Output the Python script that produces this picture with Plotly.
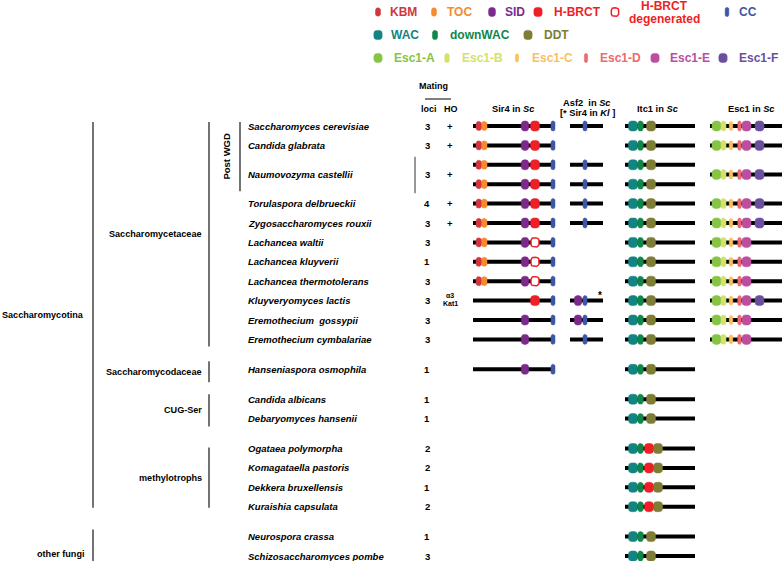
import numpy as np
import plotly.graph_objects as go

# ---------------- data ----------------
species = [
    "Saccharomyces cerevisiae", "Candida glabrata", "Naumovozyma castellii",
    "Torulaspora delbrueckii", "Zygosaccharomyces rouxii", "Lachancea waltii",
    "Lachancea kluyverii", "Lachancea thermotolerans", "Kluyveryomyces lactis",
    "Eremothecium  gossypii", "Eremothecium cymbalariae", "Hanseniaspora osmophila",
    "Candida albicans", "Debaryomyces hansenii", "Ogataea polymorpha",
    "Komagataella pastoris", "Dekkera bruxellensis", "Kuraishia capsulata",
    "Neurospora crassa", "Schizosaccharomyces pombe",
]
species_group = [0] * 11 + [1] + [2, 2] + [3, 3, 3, 3] + [4, 4]
mating_loci = [3, 3, 3, 4, 3, 3, 1, 3, 3, 3, 3, 1, 1, 1, 2, 2, 1, 2, 1, 3]
mating_ho = ["+", "+", "+", "+", "+", "", "", "", "α3|Kat1", "", "", "", "", "", "", "", "", "", "", ""]

S_FULL = ["KBM", "TOC", "SID", "H-BRCT", "CC"]
S_DEG = ["KBM", "TOC", "SID", "H-BRCT degenerated", "CC"]
sir4 = [[S_FULL], [S_FULL], [S_FULL, S_FULL], [S_FULL], [S_FULL], [S_DEG], [S_DEG], [S_DEG],
        [["H-BRCT", "CC"]], [["SID", "CC"]], [["SID", "CC"]], [["SID", "CC"]],
        [], [], [], [], [], [], [], []]
asf2 = [[["CC"]], [], [["CC"], ["CC"]], [["CC"]], [["CC"]], [], [], [],
        [["SID", "CC"]], [["SID", "CC"]], [["CC"]], [],
        [], [], [], [], [], [], [], []]
I_STD = ["WAC", "downWAC", "DDT"]
I_BR = ["WAC", "downWAC", "H-BRCT", "DDT"]
itc1 = [[I_STD], [I_STD], [I_STD, I_STD], [I_STD], [I_STD], [I_STD], [I_STD], [I_STD],
        [I_STD], [I_STD], [I_STD], [I_STD], [I_STD], [I_STD],
        [I_BR], [I_BR], [I_BR], [I_BR], [I_STD], [I_STD]]
E6 = ["Esc1-A", "Esc1-B", "Esc1-C", "Esc1-D", "Esc1-E", "Esc1-F"]
E5 = ["Esc1-A", "Esc1-B", "Esc1-C", "Esc1-D", "Esc1-E"]
esc1 = [[E6], [E6], [E6], [E6], [E6], [E5], [E5], [E5], [E6], [E5], [E5],
        [], [], [], [], [], [], [], [], []]

clades = [  # (label, first species, last species, level)
    ("Saccharomycotina", 0, 17, 0),
    ("other fungi", 18, 19, 0),
    ("Saccharomycetaceae", 0, 10, 1),
    ("Saccharomycodaceae", 11, 11, 1),
    ("CUG-Ser", 12, 13, 1),
    ("methylotrophs", 14, 17, 1),
    ("Post WGD", 0, 2, 2),
]

legend_rows = [
    ["KBM", "TOC", "SID", "H-BRCT", "H-BRCT degenerated", "CC"],
    ["WAC", "downWAC", "DDT"],
    ["Esc1-A", "Esc1-B", "Esc1-C", "Esc1-D", "Esc1-E", "Esc1-F"],
]

# ---------------- styles / layout ----------------
W, H = 782, 561
FONT = "Liberation Sans, Arial, Helvetica, sans-serif"
DOM = {  # colour, width px, height px, corner radius
    "KBM": ("#d1363f", 5.5, 9, 2.2),
    "TOC": ("#f68a2f", 5.5, 9, 2.2),
    "SID": ("#7b2a8b", 7.5, 10, 3),
    "H-BRCT": ("#ed1f27", 9, 10, 3.2),
    "H-BRCT degenerated": ("#ed1f27", 8, 9, 2.6),
    "CC": ("#3d56a5", 4, 10, 1.8),
    "WAC": ("#128582", 9, 10, 3.0),
    "downWAC": ("#11864a", 5.5, 10, 2.4),
    "DDT": ("#7e7d35", 9, 10, 3.0),
    "Esc1-A": ("#86c443", 9, 10, 3.4),
    "Esc1-B": ("#d3e26a", 5, 10, 2.2),
    "Esc1-C": ("#f9c15d", 3.5, 9, 1.6),
    "Esc1-D": ("#ec6a6b", 3.5, 10, 1.6),
    "Esc1-E": ("#bb4e9f", 9, 10, 3.2),
    "Esc1-F": ("#6a4f9f", 9, 10, 3.2),
}
PROT = {  # backbone extent and domain centres (px)
    "sir4": dict(x0=473, x1=554, pos={"KBM": 478.8, "TOC": 484.3, "SID": 525, "H-BRCT": 535,
                                       "H-BRCT degenerated": 535, "CC": 553}),
    "asf2": dict(x0=570, x1=603, pos={"SID": 578, "CC": 585}),
    "itc1": dict(x0=625, x1=695, pos={"WAC": 633, "downWAC": 640.5, "DDT": 651}),
    "itc1b": dict(x0=625, x1=695, pos={"WAC": 633, "downWAC": 640.5, "H-BRCT": 649, "DDT": 658}),
    "esc1": dict(x0=710, x1=782, pos={"Esc1-A": 716.5, "Esc1-B": 723.5, "Esc1-C": 731,
                                       "Esc1-D": 739.5, "Esc1-E": 746.5, "Esc1-F": 759.5}),
}
Y0, STEP, GAP = 126, 19.4, 10.5
X_NAME, X_LOCI, X_HO = 246, 427, 450
LEG_Y = [12, 35, 58]
LEG_MX = [[378, 434, 492, 538, 615, 727], [378, 435, 528], [378, 447, 517, 586, 655, 723]]
LEG_TX = [[388, 445, 503, 552, 664, 737], [389, 448, 542], [392, 460, 530, 598, 668, 737]]
CLADE_X = {0: 93, 1: 209, 2: 240}
CLADE_LX = {0: 85, 1: 203, 2: 227}
CLADE_PAD = {"Saccharomycotina": (4, 1), "other fungi": (7, 8), "Saccharomycetaceae": (4, 7),
             "Saccharomycodaceae": (8, 13), "CUG-Ser": (5, 8), "methylotrophs": (1, 1),
             "Post WGD": (4, 7)}

# row slots
slots, s = [], 0
for i in range(len(species)):
    n = max(1, len(sir4[i]), len(asf2[i]), len(itc1[i]), len(esc1[i]))
    slots.append([Y0 + STEP * (s + k) + GAP * species_group[i] for k in range(n)])
    s += n
row_y = [float(np.mean(v)) for v in slots]


def rrect(cx, cy, w, h, r, n=5):
    r = min(r, w / 2, h / 2)
    xs, ys = [], []
    for ox, oy, a0 in [(cx + w / 2 - r, cy - h / 2 + r, -90), (cx + w / 2 - r, cy + h / 2 - r, 0),
                       (cx - w / 2 + r, cy + h / 2 - r, 90), (cx - w / 2 + r, cy - h / 2 + r, 180)]:
        for k in range(n + 1):
            a = np.radians(a0 + 90 * k / n)
            xs.append(ox + r * np.cos(a))
            ys.append(oy + r * np.sin(a))
    xs.append(xs[0]); ys.append(ys[0])
    return xs, ys


line_x, line_y = [], []
dom_pts = {k: ([], []) for k in DOM}


def add_dom(name, cx, cy, scale=1.0):
    c, w, h, r = DOM[name]
    xs, ys = rrect(cx, cy, w * scale, h * scale, r * scale)
    dom_pts[name][0].extend(xs + [None])
    dom_pts[name][1].extend(ys + [None])


for i in range(len(species)):
    for key, table in [("sir4", sir4), ("asf2", asf2), ("itc1", itc1), ("esc1", esc1)]:
        copies = table[i]
        if not copies:
            continue
        ys = slots[i] if len(copies) == len(slots[i]) else [row_y[i]] * len(copies)
        for doms, y in zip(copies, ys):
            p = PROT["itc1b" if (key == "itc1" and "H-BRCT" in doms) else key]
            line_x.extend([p["x0"], p["x1"], None]); line_y.extend([y, y, None])
            for d in doms:
                add_dom(d, p["pos"][d], y)

# legend markers
for r, row in enumerate(legend_rows):
    for j, d in enumerate(row):
        add_dom(d, LEG_MX[r][j], LEG_Y[r], 0.92)

fig = go.Figure()
fig.add_trace(go.Scatter(x=line_x, y=line_y, mode="lines", line=dict(color="black", width=4),
                         hoverinfo="skip", showlegend=False))
for d, (xs, ys) in dom_pts.items():
    c = DOM[d][0]
    if d == "H-BRCT degenerated":
        fig.add_trace(go.Scatter(x=xs, y=ys, mode="lines", fill="toself", fillcolor="white",
                                 line=dict(color=c, width=1.5), hoverinfo="skip", showlegend=False))
    else:
        fig.add_trace(go.Scatter(x=xs, y=ys, mode="lines", fill="toself", fillcolor=c,
                                 line=dict(color=c, width=0.5), hoverinfo="skip", showlegend=False))

# clade brackets
bx, by = [], []
ann = []


def A(x, y, text, size=9.5, color="black", xanchor="center", **kw):
    ann.append(dict(x=x, y=y, xref="x", yref="y", text=text, showarrow=False, xanchor=xanchor,
                    yanchor="middle", font=dict(family=FONT, size=size, color=color), **kw))


for label, a, b, lvl in clades:
    pt, pb = CLADE_PAD[label]
    top, bot = slots[a][0] - pt, slots[b][-1] + pb
    if label == "other fungi":
        bot = H
    bx.extend([CLADE_X[lvl], CLADE_X[lvl], None]); by.extend([top, bot, None])
    mid = (top + bot) / 2 if label != "other fungi" else slots[b][-1] - 2
    if lvl == 2:
        A(CLADE_LX[lvl], mid, "<b>%s</b>" % label, size=9.5, textangle=-90)
    else:
        A(CLADE_LX[lvl], mid, "<b>%s</b>" % label, size=9.1, xanchor="right", borderpad=0)
fig.add_trace(go.Scatter(x=bx, y=by, mode="lines", line=dict(color="black", width=1.1),
                         hoverinfo="skip", showlegend=False))
# bracket for multi-copy species (N. castellii)
mx, my = [], []
for i in range(len(species)):
    if len(slots[i]) > 1:
        mx.extend([415, 415, None]); my.extend([slots[i][0] - 8, slots[i][-1] + 9, None])
fig.add_trace(go.Scatter(x=mx, y=my, mode="lines", line=dict(color="#333333", width=1),
                         hoverinfo="skip", showlegend=False))

# species, loci, HO
for i, name in enumerate(species):
    A(X_NAME, row_y[i], "<b><i>%s</i></b>" % name, xanchor="left")
    A(X_LOCI, row_y[i], "<b>%d</b>" % mating_loci[i])
    h = mating_ho[i]
    if "|" in h:
        t1, t2 = h.split("|")
        A(X_HO, row_y[i] - 5, "<b>%s</b>" % t1, size=7)
        A(X_HO, row_y[i] + 3, "<b>%s</b>" % t2, size=7)
        A(600, row_y[i] - 5, "<b>*</b>", size=10)
    elif h:
        A(X_HO, row_y[i], "<b>%s</b>" % h)

# headers
A(433, 86, "<b>Mating</b>", size=9)
fig.add_trace(go.Scatter(x=[425, 451], y=[99, 99], mode="lines", line=dict(color="black", width=1),
                         hoverinfo="skip", showlegend=False))
A(X_LOCI + 2, 109, "<b>loci</b>", size=9)
A(X_HO + 1, 109, "<b>HO</b>", size=9)
A(513, 109, "<b>Sir4 in <i>Sc</i></b>", size=9.3)
A(587, 103, "<b>Asf2  in <i>Sc</i></b>", size=9.3)
A(587, 113, "<b>[* Sir4 in <i>Kl</i> ]</b>", size=9.3)
A(658, 109, "<b>Itc1 in <i>Sc</i></b>", size=9.3)
A(751, 109, "<b>Esc1 in <i>Sc</i></b>", size=9.3)

# legend texts
for r, row in enumerate(legend_rows):
    for j, d in enumerate(row):
        c = DOM[d][0]
        if d == "H-BRCT degenerated":
            A(LEG_TX[r][j], 6, "<b>H-BRCT</b>", size=12, color=c, borderpad=0)
            A(LEG_TX[r][j], 19, "<b>degenerated</b>", size=12, color=c, borderpad=0)
        else:
            A(LEG_TX[r][j], LEG_Y[r], "<b>%s</b>" % d, size=12, color=c, xanchor="left")

fig.update_layout(
    width=W, height=H, margin=dict(l=0, r=0, t=0, b=0),
    plot_bgcolor="white", paper_bgcolor="white",
    xaxis=dict(range=[0, W], visible=False, fixedrange=True),
    yaxis=dict(range=[H, 0], visible=False, fixedrange=True),
    annotations=ann, showlegend=False,
)
fig.write_html("out.html", config={"displayModeBar": False, "staticPlot": True},
               post_script="document.body.style.margin='0';document.body.style.overflow='hidden';")
